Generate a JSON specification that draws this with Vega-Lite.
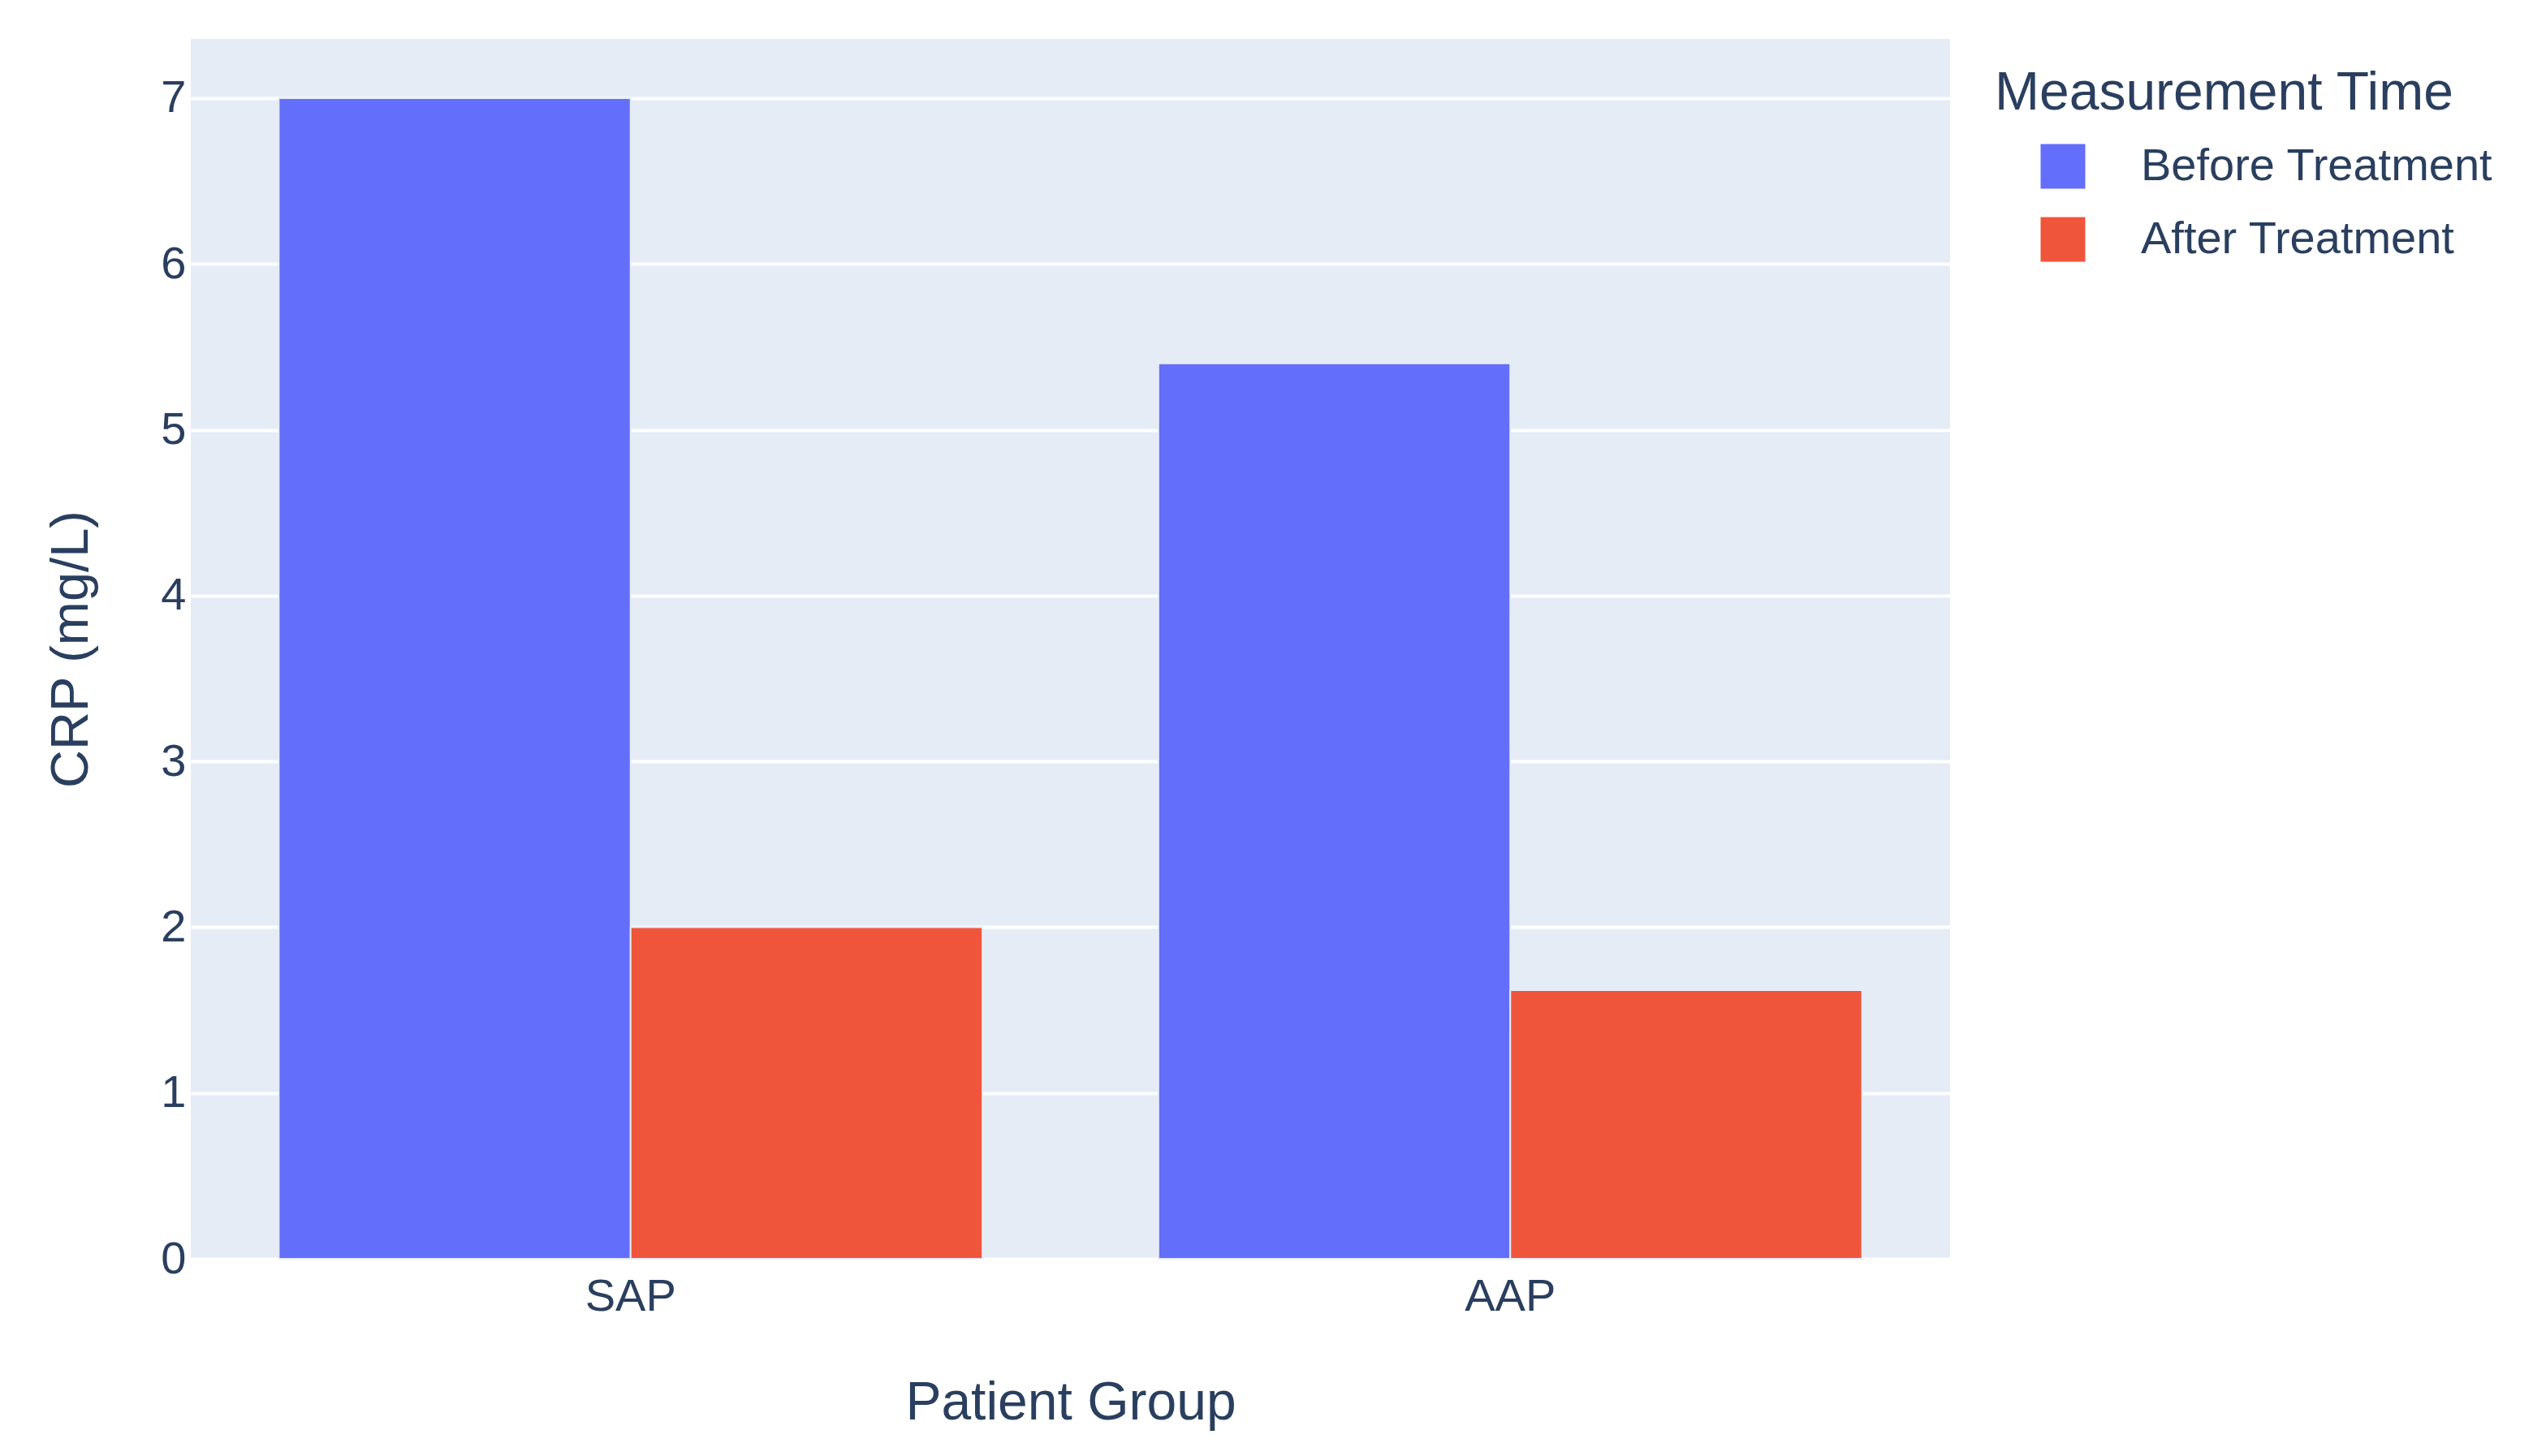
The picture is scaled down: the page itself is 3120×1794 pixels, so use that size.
{
  "$schema": "https://vega.github.io/schema/vega-lite/v6.json",
  "width": 2167,
  "height": 1503,
  "autosize": {"type": "none"},
  "padding": {"left": 235, "top": 48, "right": 718, "bottom": 243},
  "background": "white",
  "config": {"font": "Liberation Sans", "view": {"fill": "#E5ECF6", "stroke": null}},
  "data": {
    "values": [
      {"group": "SAP", "time": "Before Treatment", "crp": 7.0},
      {"group": "SAP", "time": "After Treatment", "crp": 2.0},
      {"group": "AAP", "time": "Before Treatment", "crp": 5.4},
      {"group": "AAP", "time": "After Treatment", "crp": 1.62}
    ]
  },
  "mark": {"type": "bar", "stroke": "#E5ECF6", "strokeWidth": 2},
  "encoding": {
    "x": {
      "field": "group", "type": "nominal", "sort": ["SAP", "AAP"], "title": "Patient Group",
      "scale": {"paddingInner": 0.2, "paddingOuter": 0.1},
      "axis": {
        "domain": false, "ticks": false, "tickSize": 0, "grid": false, "labelAngle": 0,
        "labelFontSize": 56, "labelColor": "#2a3f5f", "labelBaseline": "alphabetic", "labelPadding": 63,
        "titleFontSize": 66, "titleFontWeight": "normal", "titleColor": "#2a3f5f",
        "titleBaseline": "alphabetic", "titleY": 197
      }
    },
    "xOffset": {
      "field": "time", "type": "nominal", "sort": ["Before Treatment", "After Treatment"],
      "scale": {"paddingInner": 0, "paddingOuter": 0}
    },
    "y": {
      "field": "crp", "type": "quantitative", "title": "CRP (mg/L)",
      "scale": {"domain": [0, 7.357], "nice": false},
      "axis": {
        "domain": false, "ticks": false, "tickSize": 0, "gridColor": "white", "gridWidth": 4,
        "values": [0, 1, 2, 3, 4, 5, 6, 7],
        "labelFontSize": 56, "labelColor": "#2a3f5f", "labelPadding": 6,
        "titleFontSize": 65, "titleFontWeight": "normal", "titleColor": "#2a3f5f",
        "titleBaseline": "alphabetic", "titleAngle": -90, "titleAlign": "center",
        "titleX": -128, "titleY": 751.5
      }
    },
    "color": {
      "field": "time", "type": "nominal", "sort": ["Before Treatment", "After Treatment"],
      "scale": {"domain": ["Before Treatment", "After Treatment"], "range": ["#636EFA", "#EF553B"]},
      "legend": {
        "orient": "none", "legendX": 2222, "legendY": 35, "padding": 0,
        "title": "Measurement Time", "titleFontSize": 66, "titleFontWeight": "normal",
        "titleColor": "#2a3f5f", "titlePadding": 28, "titleLimit": 1000,
        "labelFontSize": 56, "labelColor": "#2a3f5f", "labelLimit": 1000,
        "symbolType": "square", "symbolSize": 3025, "symbolStrokeWidth": 0,
        "symbolOffset": 56, "labelOffset": 68, "rowPadding": 34
      }
    }
  }
}
